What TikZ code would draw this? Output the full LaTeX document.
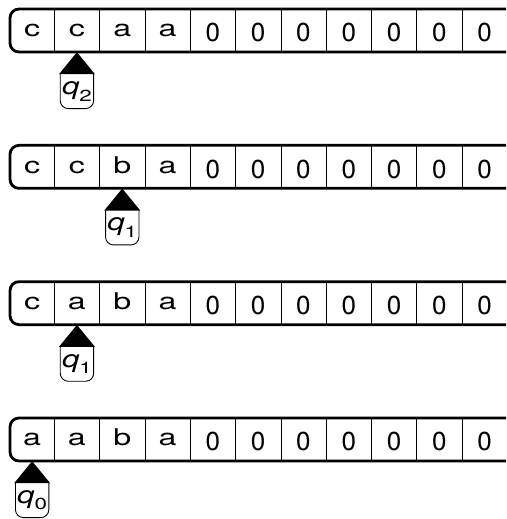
\documentclass[tikz,border=0pt]{standalone}
\usepackage{graphicx}
\usepackage{fontspec}
\setmainfont{TeX Gyre Heros}
\newcommand\tapesym[1]{\if0#1\raisebox{-2.7pt}{\fontsize{26}{28}\selectfont 0}\else\raisebox{2.3pt}{\scalebox{1.4}[1]{\fontsize{23}{26}\selectfont #1}}\fi}
\newcommand\headlbl[1]{\scalebox{1.3}[1]{\fontsize{24}{26}\selectfont\itshape q}\raisebox{-6.5pt}{\scalebox{1.4}[1]{\fontsize{16}{18}\selectfont #1}}}
\begin{document}
\begin{tikzpicture}[x=1pt,y=-1pt,
  tapeline/.style={line width=2.8pt, rounded corners=9pt},
  divider/.style={line width=0.9pt},
  cell/.style={inner sep=0pt, minimum height=43pt, text height=17pt, text depth=0pt},
  headlabel/.style={inner sep=0pt, minimum width=33pt, minimum height=34pt},
  headbox/.style={line width=0.9pt, rounded corners=8pt},
  headtri/.style={fill=black}]
\useasboundingbox (0,0) rectangle (506,519);
\foreach \r/\hc/\qn/\syms in {
  0/2/2/{c,c,a,a,0,0,0,0,0,0,0},
  1/3/1/{c,c,b,a,0,0,0,0,0,0,0},
  2/2/1/{c,a,b,a,0,0,0,0,0,0,0},
  3/1/0/{a,a,b,a,0,0,0,0,0,0,0}} {
  \pgfmathsetmacro\ty{9+136.33*\r}
  \pgfmathsetmacro\by{\ty+43}
  \draw[tapeline] (506,\ty) -- (10,\ty) -- (10,\by) -- (506,\by);
  \foreach \s [count=\i] in \syms {
    \pgfmathsetmacro\cx{\i==1 ? 32.15 : 54.3+45.3*(\i-1.5)}
    \pgfmathsetmacro\cw{\i==1 ? 44.3 : 45.3}
    \node[cell, minimum width=\cw pt] (c\r-\i) at (\cx,\ty+21.5) {\tapesym{\s}};
    \ifnum\i<11 \draw[divider] (c\r-\i.north east) -- (c\r-\i.south east);\fi
  }
  \node[headlabel, anchor=north] (h\r) at ([yshift=-22pt]c\r-\hc.south) {\headlbl{\qn}};
  \fill[headtri] (c\r-\hc.south) -- ([xshift=18pt]h\r.north) -- ([xshift=-18pt]h\r.north) -- cycle;
  \draw[headbox] (h\r.north west) -- (h\r.south west) -- (h\r.south east) -- (h\r.north east);
}
\end{tikzpicture}
\end{document}
